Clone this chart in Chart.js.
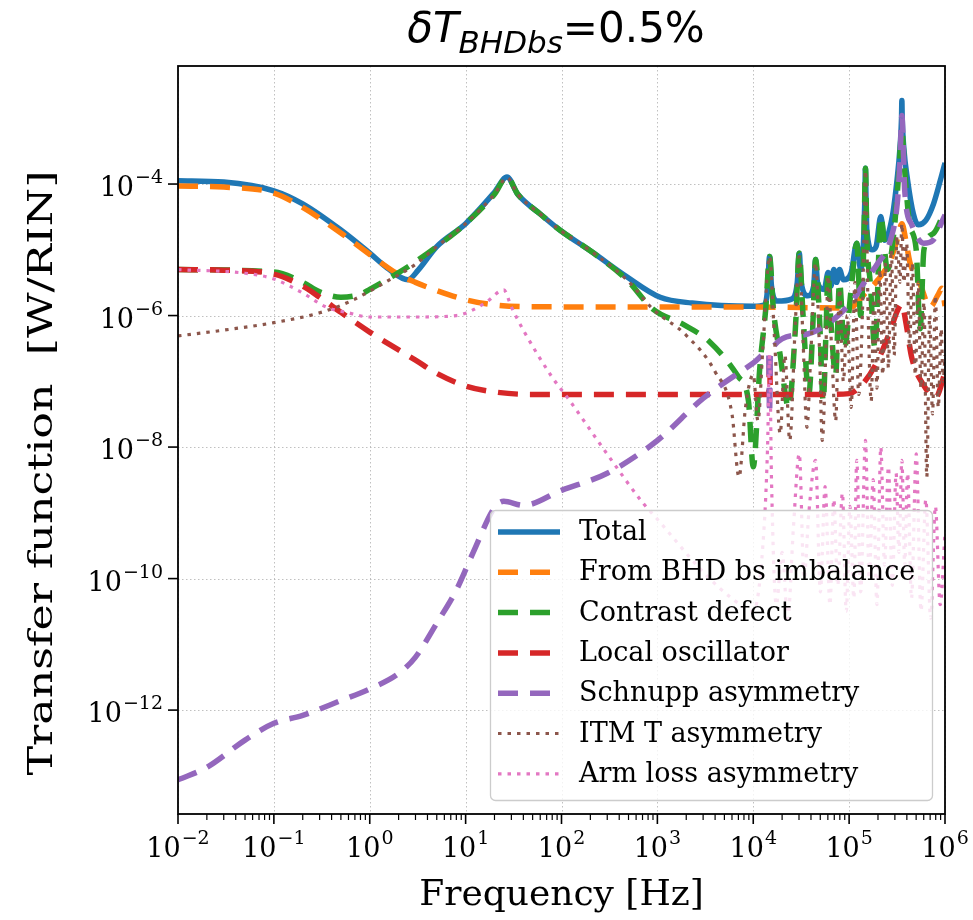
<!DOCTYPE html>
<html lang="en">
<head>
<meta charset="UTF-8">
<title>Transfer function, dT BHDbs = 0.5%</title>
<script src="https://cdn.jsdelivr.net/npm/chart.js@4.4.0/dist/chart.umd.min.js"></script>
<style>
  body { margin: 0; background: #fff; }
</style>
</head>
<body>
<canvas id="tf" width="973" height="920"></canvas>
<script>
// values: frequency [Hz] and transfer function [W/RIN]
const totalF = [0.01, 0.03, 0.1, 0.2, 0.5, 1, 1.6, 2.5, 3.2, 5, 10, 20, 27, 35, 60, 96, 214, 480, 1070, 2300,
  1e4, 1.32e4, 1.41e4, 1.48e4, 1.55e4, 1.78e4, 2.51e4, 2.88e4, 3.02e4, 3.16e4, 3.72e4, 4.27e4, 4.47e4, 4.68e4, 5.5e4,
  6.03e4, 6.46e4, 6.92e4, 7.41e4, 7.94e4, 8.71e4, 1.05e5, 1.2e5, 1.32e5, 1.43e5, 1.46e5, 1.48e5, 1.5e5, 1.53e5, 1.74e5,
  1.91e5, 2.14e5, 2.34e5, 2.82e5, 3.16e5, 3.39e5, 3.52e5, 3.55e5, 3.58e5, 3.72e5, 4.07e5, 4.68e5, 5.25e5, 6.31e5, 7.59e5,
  8.91e5, 1e6];
const totalV = [1.12e-4, 1.07e-4, 7.9e-5, 5e-5, 2e-5, 8.9e-6, 5e-6, 3.5e-6, 4.9e-6, 1.12e-5, 2.5e-5, 7.5e-5, 1.28e-4, 7e-5, 3.5e-5, 2e-5, 9e-6, 3.9e-6, 1.9e-6, 1.55e-6,
  1.38e-6, 1.45e-6, 2.5e-6, 7.9e-6, 2.8e-6, 1.66e-6, 1.78e-6, 3.2e-6, 8.9e-6, 3.2e-6, 2e-6, 2.8e-6, 7.1e-6, 3.2e-6, 2.5e-6,
  4.5e-6, 2.8e-6, 5e-6, 3.2e-6, 5e-6, 3.5e-6, 4.5e-6, 1.26e-5, 5e-6, 2e-5, 6.3e-5, 1.74e-4, 6.3e-5, 2e-5, 1e-5,
  1.12e-5, 3.2e-5, 1.4e-5, 3.2e-5, 1.15e-4, 3.5e-4, 1e-3, 1.86e-3, 1e-3, 3.5e-4, 1.15e-4, 3.5e-5, 2.4e-5, 2.8e-5, 5e-5,
  1.12e-4, 2.1e-4];

const bsF = [0.01, 0.03, 0.1, 0.2, 0.5, 1, 2, 3, 5, 10, 20, 50, 1e3, 1e4, 1e5, 1.48e5, 2e5, 2.7e5, 3.2e5, 3.55e5,
  3.9e5, 4.3e5, 5.5e5, 7e5, 8.5e5, 9.3e5, 1e6];
const bsV = [9.3e-5, 9e-5, 7.3e-5, 4.4e-5, 1.8e-5, 8.5e-6, 4.2e-6, 3.2e-6, 2.4e-6, 1.74e-6, 1.45e-6, 1.36e-6, 1.35e-6, 1.35e-6, 1.3e-6, 2.2e-6, 3.5e-6, 7e-6, 1.5e-5, 2.5e-5,
  1.4e-5, 6.5e-6, 3e-6, 1.35e-6, 2.1e-6, 2.6e-6, 1.4e-6];

const contrastF = [0.01, 0.1, 0.2, 0.3, 0.5, 0.8, 1, 2, 3, 5, 10, 20, 27, 35, 60, 96, 214, 480, 900, 1900,
  3500, 7000, 8900, 1e4, 1.17e4, 1.35e4, 1.48e4, 1.62e4, 1.91e4, 2.34e4, 2.75e4, 3.02e4, 3.31e4, 3.8e4, 4.17e4,
  4.47e4, 4.9e4, 5.37e4, 5.75e4, 6.03e4, 6.46e4, 7.24e4, 7.94e4, 8.91e4, 1.05e5, 1.2e5, 1.32e5, 1.43e5, 1.48e5, 1.53e5,
  1.66e5, 1.86e5, 2.14e5, 2.51e5, 2.95e5, 3.31e5, 3.55e5, 3.8e5, 4.27e5, 5.01e5, 5.5e5, 6.03e5, 7.59e5, 1e6];
const contrastV = [5e-6, 4.6e-6, 3.2e-6, 2.3e-6, 1.9e-6, 2.1e-6, 2.5e-6, 4.5e-6, 6.6e-6, 1.12e-5, 2.5e-5, 7e-5, 1.28e-4, 7e-5, 3.5e-5, 2e-5, 9e-6, 3.5e-6, 1.25e-6, 7.2e-7,
  4e-7, 1.17e-7, 5.1e-8, 5e-9, 1.6e-7, 1.26e-6, 7.9e-6, 1.26e-6, 2.5e-7, 4e-8, 6.3e-7, 8.9e-6, 1e-6, 6.3e-8, 6.3e-7,
  7.1e-6, 1e-6, 5e-8, 6.3e-7, 4.5e-6, 7.9e-7, 1.26e-7, 3.2e-6, 3.2e-7, 2.5e-6, 1.26e-5, 1e-6, 1.6e-5, 1.74e-4, 1.6e-5,
  3.2e-6, 3.2e-7, 3.2e-5, 5e-6, 2e-5, 1.6e-4, 6.3e-4, 1.6e-4, 2.5e-5, 1e-5, 6.3e-7, 1e-5, 1.78e-5, 4e-5];

const loF = [0.01, 0.03, 0.1, 0.2, 0.3, 0.5, 1, 2, 3, 5, 10, 20, 50, 1.45e4, 1.48e4, 1.51e4, 5e4, 1e5, 1.4e5, 2e5,
  2.7e5, 3.2e5, 3.55e5, 3.9e5, 4.5e5, 6e5, 8e5, 1e6];
const loV = [5e-6, 4.9e-6, 4.27e-6, 2.8e-6, 1.9e-6, 1.12e-6, 5.6e-7, 3e-7, 2.1e-7, 1.32e-7, 8.5e-8, 6.9e-8, 6.3e-8, 6.3e-8, 2.5e-7, 6.3e-8, 6.3e-8, 6.5e-8, 9.3e-8, 2.1e-7,
  6e-7, 1.2e-6, 1.5e-6, 8e-7, 2.3e-7, 8.7e-8, 5.7e-8, 1.35e-7];

const schnuppF = [0.01, 0.02, 0.05, 0.1, 0.2, 0.5, 1, 2, 3, 5, 8, 12, 20, 25, 40, 100, 300, 1e3, 3e3, 1e4,
  1.45e4, 1.48e4, 1.51e4, 3e4, 1e5, 1.5e5, 2e5, 2.7e5, 3.2e5, 3.4e5, 3.55e5, 3.7e5, 3.8e5, 4.5e5, 6e5, 7.5e5, 9e5, 1e6];
const schnuppV = [8.7e-14, 1.35e-13, 3.5e-13, 6.3e-13, 8.3e-13, 1.4e-12, 2.1e-12, 3.6e-12, 6.4e-12, 2.1e-11, 6.7e-11, 2.5e-10, 1.2e-9, 1.5e-9, 1.3e-9, 2.2e-9, 4e-9, 1.26e-8, 5.5e-8, 1.9e-7,
  2.8e-7, 3.2e-8, 2.9e-7, 5e-7, 1.45e-6, 3.5e-6, 6.3e-6, 1.4e-5, 5.7e-5, 2.5e-4, 1.1e-3, 2.5e-4, 8e-5, 2.4e-5, 1.26e-5, 1.4e-5, 2.4e-5, 3.4e-5];

const itmF = [0.01, 0.03, 0.1, 0.3, 0.6, 1.5, 3, 5, 10, 20, 27, 35, 60, 96, 214, 480, 900, 2e3, 4e3, 6e3,
  7.1e3, 8.3e3, 1e4, 1.12e4, 1.26e4, 1.48e4, 1.66e4, 1.91e4, 2.14e4, 2.4e4, 2.75e4, 3.02e4, 3.31e4, 3.63e4, 3.98e4,
  4.47e4, 4.9e4, 5.25e4, 5.75e4, 6.03e4, 6.61e4, 7.24e4, 7.94e4, 8.71e4, 9.55e4, 1.05e5, 1.15e5, 1.26e5, 1.38e5, 1.48e5,
  1.58e5, 1.7e5, 1.82e5, 1.95e5, 2.09e5, 2.24e5, 2.4e5, 2.57e5, 2.75e5, 2.95e5, 3.16e5, 3.39e5, 3.55e5, 3.72e5, 3.98e5,
  4.27e5, 4.57e5, 4.9e5, 5.25e5, 5.62e5, 6.03e5, 6.46e5, 6.92e5, 7.41e5, 7.94e5, 8.51e5, 9.12e5, 9.55e5, 1e6];
const itmV = [4.9e-7, 6e-7, 7.8e-7, 1.1e-6, 1.6e-6, 3.3e-6, 6e-6, 1.12e-5, 2.5e-5, 7e-5, 1.25e-4, 7e-5, 3.5e-5, 2e-5, 9e-6, 3.5e-6, 1.25e-6, 5e-7, 1.4e-7, 3.2e-8,
  3.5e-9, 4e-8, 1.26e-7, 2.5e-8, 3.2e-7, 7.9e-6, 5e-7, 1.6e-8, 2.5e-7, 1.26e-8, 7.9e-7, 7.9e-6, 4e-7, 2e-8, 2.5e-7,
  6.3e-6, 3.2e-7, 1.26e-8, 4e-7, 4e-6, 2.5e-7, 2.5e-8, 2.5e-6, 1e-7, 1e-6, 4e-8, 3.2e-6, 6.3e-8, 1.26e-6, 1.6e-4,
  1e-6, 5e-8, 2.5e-6, 7.9e-8, 5e-6, 1.26e-7, 6.3e-6, 1.6e-7, 1e-5, 2.5e-7, 1.6e-5, 3.2e-6, 2.5e-5, 3.2e-6, 1.26e-5,
  3.2e-7, 6.3e-6, 1.26e-7, 3.2e-6, 7.9e-8, 1.6e-6, 3.5e-9, 1e-6, 3.2e-8, 2e-6, 4e-8, 6.3e-7, 1e-7, 2.5e-7];

const armF = [0.01, 0.05, 0.1, 0.2, 0.35, 0.6, 1, 3, 8, 16, 25, 30, 40, 80, 115, 316, 710, 1e3, 3e3, 6e3,
  1e4, 1.26e4, 1.41e4, 1.48e4, 1.55e4, 1.74e4, 2e4, 2.29e4, 2.63e4, 3.02e4, 3.39e4, 3.8e4, 4.47e4, 5.01e4, 5.62e4,
  6.31e4, 6.92e4, 7.59e4, 8.51e4, 9.33e4, 1.02e5, 1.12e5, 1.2e5, 1.32e5, 1.48e5, 1.62e5, 1.78e5, 1.95e5, 2.14e5, 2.34e5,
  2.57e5, 2.82e5, 3.09e5, 3.31e5, 3.55e5, 3.8e5, 4.07e5, 4.47e5, 5.01e5, 5.62e5, 6.31e5, 7.08e5, 7.94e5, 8.91e5, 1e6];
const armV = [5e-6, 4.4e-6, 3.6e-6, 2.2e-6, 1.35e-6, 1.1e-6, 9.5e-7, 9.5e-7, 1e-6, 1.55e-6, 2.45e-6, 1.35e-6, 6e-7, 1.15e-7, 5.7e-8, 7e-9, 1.4e-9, 8e-10, 1.26e-10, 5e-11,
  3.2e-11, 3.2e-10, 1e-8, 2.5e-7, 3.2e-9, 4e-11, 2.5e-10, 2.5e-11, 6.3e-10, 7.9e-9, 1e-10, 1e-9, 6.3e-9, 6.3e-11, 2.5e-9,
  4e-11, 1.6e-9, 7.9e-11, 2e-9, 3.2e-11, 1.26e-9, 5e-11, 6.3e-9, 6.3e-11, 1.26e-8, 1e-10, 3.2e-9, 4e-11, 1e-8, 1.6e-10,
  5e-9, 7.9e-11, 4e-9, 2.5e-10, 6.3e-9, 1.6e-10, 4e-9, 5e-11, 7.9e-9, 3.2e-11, 1.6e-9, 2.5e-11, 1.26e-9, 4e-11, 5e-10];

// axis ticks (value, exponent shown as 10^exp)
const xTicks = [1e-2, 1e-1, 1e0, 1e1, 1e2, 1e3, 1e4, 1e5, 1e6];
const xTickExp = ['\u22122', '\u22121', '0', '1', '2', '3', '4', '5', '6'];
const yTicks = [1e-12, 1e-10, 1e-8, 1e-6, 1e-4];
const yTickExp = ['\u221212', '\u221210', '\u22128', '\u22126', '\u22124'];

const DASH = [20, 12];
const DOT = [3.5, 6];

function pts(f, v) {
  return f.map((x, i) => ({x: x, y: v[i]}));
}

const datasets = [
  {label: 'Total', data: pts(totalF, totalV), borderColor: '#1f77b4', borderWidth: 5.5, borderDash: [], order: 6},
  {label: 'From BHD bs imbalance', data: pts(bsF, bsV), borderColor: '#ff7f0e', borderWidth: 5.5, borderDash: DASH, order: 5},
  {label: 'Contrast defect', data: pts(contrastF, contrastV), borderColor: '#2ca02c', borderWidth: 5.5, borderDash: DASH, order: 4},
  {label: 'Local oscillator', data: pts(loF, loV), borderColor: '#d62728', borderWidth: 5.5, borderDash: DASH, order: 3},
  {label: 'Schnupp asymmetry', data: pts(schnuppF, schnuppV), borderColor: '#9467bd', borderWidth: 5.5, borderDash: DASH, order: 2},
  {label: 'ITM T asymmetry', data: pts(itmF, itmV), borderColor: '#8c564b', borderWidth: 3.2, borderDash: DOT, order: 1},
  {label: 'Arm loss asymmetry', data: pts(armF, armV), borderColor: '#e377c2', borderWidth: 3.2, borderDash: DOT, order: 0}
];

function line(ctx, x1, y1, x2, y2) {
  ctx.beginPath();
  ctx.moveTo(x1, y1);
  ctx.lineTo(x2, y2);
  ctx.stroke();
}

// grid, frame, ticks, labels, legend and title drawn in matplotlib style
const mplLook = {
  id: 'mplLook',
  beforeDatasetsDraw(chart) {
    const {ctx, chartArea: a, scales: {x, y}} = chart;
    ctx.save();
    ctx.strokeStyle = '#b0b0b0';
    ctx.lineWidth = 0.8;
    ctx.setLineDash([1.5, 2.5]);
    xTicks.forEach(v => {
      const px = Math.round(x.getPixelForValue(v)) + 0.5;
      line(ctx, px, a.top, px, a.bottom);
    });
    yTicks.forEach(v => {
      const py = Math.round(y.getPixelForValue(v)) + 0.5;
      line(ctx, a.left, py, a.right, py);
    });
    ctx.restore();
  },
  afterDraw(chart) {
    const {ctx, chartArea: a, scales: {x, y}} = chart;
    ctx.save();

    // frame
    ctx.strokeStyle = '#000';
    ctx.lineWidth = 1.8;
    ctx.strokeRect(a.left, a.top, a.right - a.left, a.bottom - a.top);

    // x ticks, major and minor
    ctx.lineWidth = 1.6;
    xTicks.forEach(v => {
      const px = x.getPixelForValue(v);
      line(ctx, px, a.bottom, px, a.bottom + 10);
      if (v < 1e6) {
        ctx.lineWidth = 1.2;
        for (let k = 2; k <= 9; k++) {
          const mx = x.getPixelForValue(v * k);
          line(ctx, mx, a.bottom, mx, a.bottom + 6);
        }
        ctx.lineWidth = 1.6;
      }
    });
    yTicks.forEach(v => {
      const py = y.getPixelForValue(v);
      line(ctx, a.left - 10, py, a.left, py);
    });

    // tick labels 10^n
    ctx.fillStyle = '#000';
    ctx.textBaseline = 'alphabetic';
    const big = '27px "DejaVu Serif"', small = '19px "DejaVu Serif"';
    xTicks.forEach((v, i) => {
      ctx.font = big;
      const w1 = ctx.measureText('10').width;
      ctx.font = small;
      const w2 = ctx.measureText(xTickExp[i]).width;
      const px = x.getPixelForValue(v) - (w1 + w2 + 1) / 2;
      ctx.textAlign = 'left';
      ctx.font = big;
      ctx.fillText('10', px, a.bottom + 43);
      ctx.font = small;
      ctx.fillText(xTickExp[i], px + w1 + 1, a.bottom + 30);
    });
    yTicks.forEach((v, i) => {
      const py = y.getPixelForValue(v);
      ctx.font = small;
      const w2 = ctx.measureText(yTickExp[i]).width;
      const right = a.left - 15;
      ctx.textAlign = 'left';
      ctx.fillText(yTickExp[i], right - w2, py - 1);
      ctx.font = big;
      const w1 = ctx.measureText('10').width;
      ctx.fillText('10', right - w2 - 1 - w1, py + 12);
    });

    // axis titles
    ctx.textAlign = 'center';
    ctx.font = '36px "DejaVu Serif"';
    ctx.fillText('Frequency [Hz]', (a.left + a.right) / 2, 905);
    ctx.save();
    ctx.translate(52, 473);
    ctx.rotate(-Math.PI / 2);
    ctx.font = '34px "DejaVu Serif"';
    const yt = 'Transfer function  [W/RIN]';
    const sx = 605 / ctx.measureText(yt).width;
    ctx.scale(sx, 1);
    ctx.fillText(yt, 0, 0);
    ctx.restore();

    // title: delta T_BHDbs = 0.5%
    const f1 = 'italic 42px "DejaVu Sans"', f2 = 'italic 31px "DejaVu Sans"', f3 = '42px "DejaVu Sans"';
    ctx.textAlign = 'left';
    ctx.font = f1; const t1 = ctx.measureText('\u03b4T').width;
    ctx.font = f2; const t2 = ctx.measureText('BHDbs').width;
    ctx.font = f3; const t3 = ctx.measureText('=0.5%').width;
    let tx = 556 - (t1 + t2 + t3) / 2;
    ctx.font = f1; ctx.fillText('\u03b4T', tx, 42); tx += t1;
    ctx.font = f2; ctx.fillText('BHDbs', tx, 53); tx += t2;
    ctx.font = f3; ctx.fillText('=0.5%', tx, 42);

    // legend
    const lx = 490, ly = 510, lw = 442, lh = 290;
    ctx.beginPath();
    ctx.roundRect(lx + 0.5, ly + 0.5, lw, lh, 5);
    ctx.fillStyle = 'rgba(255,255,255,0.8)';
    ctx.fill();
    ctx.strokeStyle = '#cccccc';
    ctx.lineWidth = 1.3;
    ctx.stroke();
    ctx.font = '27px "DejaVu Serif"';
    ctx.textBaseline = 'middle';
    chart.data.datasets.forEach((d, i) => {
      const ry = ly + 22 + i * 40.3;
      ctx.strokeStyle = d.borderColor;
      ctx.lineWidth = d.borderWidth;
      ctx.setLineDash(d.borderDash);
      line(ctx, 498, ry, 560, ry);
      ctx.setLineDash([]);
      ctx.fillStyle = '#000';
      ctx.fillText(d.label, 579, ry + 1);
    });
    ctx.restore();
  }
};

new Chart(document.getElementById('tf'), {
  type: 'line',
  data: {datasets: datasets},
  options: {
    responsive: false,
    animation: false,
    layout: {padding: {top: 66, right: 28, left: 0, bottom: 0}},
    elements: {
      point: {radius: 0},
      line: {cubicInterpolationMode: 'monotone', borderCapStyle: 'butt', fill: false}
    },
    plugins: {legend: {display: false}, tooltip: {enabled: false}, title: {display: false}},
    scales: {
      x: {
        type: 'logarithmic', min: 1e-2, max: 1e6,
        grid: {display: false}, border: {display: false}, ticks: {display: false},
        afterBuildTicks: s => { s.ticks = xTicks.map(v => ({value: v})); },
        afterFit: s => { s.height = 106; }
      },
      y: {
        type: 'logarithmic', min: 2.63e-14, max: 6.24e-3,
        grid: {display: false}, border: {display: false}, ticks: {display: false},
        afterBuildTicks: s => { s.ticks = yTicks.map(v => ({value: v})); },
        afterFit: s => { s.width = 178; }
      }
    }
  },
  plugins: [mplLook]
});
</script>
</body>
</html>
